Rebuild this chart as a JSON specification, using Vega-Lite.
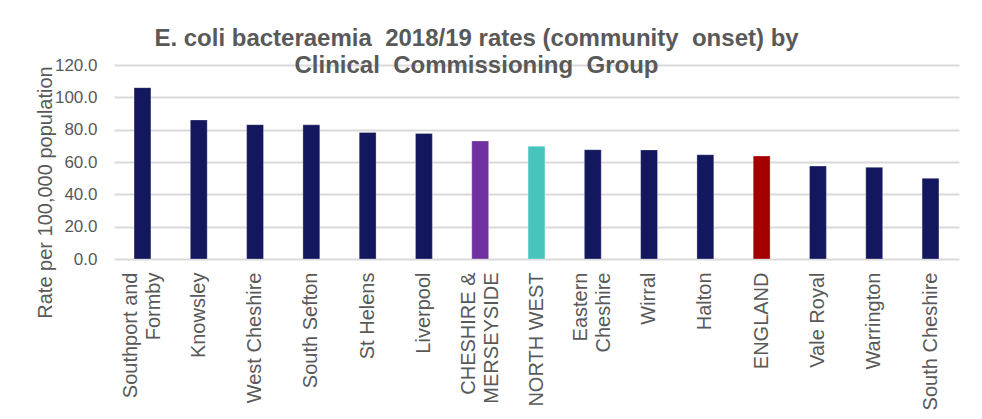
{
  "$schema": "https://vega.github.io/schema/vega-lite/v6.json",
  "autosize": "none",
  "width": 845,
  "height": 194,
  "padding": {"left": 114, "top": 65, "right": 23, "bottom": 160},
  "background": "white",
  "config": {
    "view": {"stroke": null},
    "font": "Liberation Sans"
  },
  "title": {
    "text": ["E. coli bacteraemia \u00a02018/19 rates (community \u00a0onset) by", "Clinical \u00a0Commissioning \u00a0Group"],
    "font": "Liberation Sans",
    "fontSize": 24,
    "fontWeight": "bold",
    "color": "#595959",
    "anchor": "middle",
    "frame": "group",
    "dx": -60,
    "dy": 41,
    "lineHeight": 27,
    "baseline": "alphabetic",
    "offset": 0
  },
  "data": {
    "values": [
      {"area": "Southport and|Formby", "rate": 106.0, "kind": "CCG"},
      {"area": "Knowsley", "rate": 86.0, "kind": "CCG"},
      {"area": "West Cheshire", "rate": 83.1, "kind": "CCG"},
      {"area": "South Sefton", "rate": 83.0, "kind": "CCG"},
      {"area": "St Helens", "rate": 78.3, "kind": "CCG"},
      {"area": "Liverpool", "rate": 77.7, "kind": "CCG"},
      {"area": "CHESHIRE &|MERSEYSIDE", "rate": 73.0, "kind": "Cheshire & Merseyside"},
      {"area": "NORTH WEST", "rate": 69.7, "kind": "North West"},
      {"area": "Eastern|Cheshire", "rate": 67.6, "kind": "CCG"},
      {"area": "Wirral", "rate": 67.5, "kind": "CCG"},
      {"area": "Halton", "rate": 64.5, "kind": "CCG"},
      {"area": "ENGLAND", "rate": 63.7, "kind": "England"},
      {"area": "Vale Royal", "rate": 57.5, "kind": "CCG"},
      {"area": "Warrington", "rate": 56.7, "kind": "CCG"},
      {"area": "South Cheshire", "rate": 49.9, "kind": "CCG"}
    ]
  },
  "mark": {"type": "bar", "stroke": "#ffffff", "strokeWidth": 0.5, "strokeOpacity": 0.6},
  "encoding": {
    "x": {
      "field": "area",
      "type": "nominal",
      "sort": null,
      "scale": {"paddingInner": 0.7, "paddingOuter": 0.356},
      "axis": {
        "title": null,
        "domain": false,
        "ticks": false,
        "labelAngle": -90,
        "labelAlign": "right",
        "labelBaseline": "middle",
        "labelPadding": 13,
        "labelFont": "Liberation Sans",
        "labelFontSize": 20,
        "labelColor": "#595959",
        "labelLineHeight": 23,
        "labelOffset": {"condition": {"test": "indexof(datum.label, '|') >= 0", "value": -11.5}, "value": 0},
        "labelExpr": "split(datum.label, '|')",
        "labelLimit": 300
      }
    },
    "y": {
      "field": "rate",
      "type": "quantitative",
      "scale": {"domain": [0, 120], "nice": false},
      "axis": {
        "values": [0, 20, 40, 60, 80, 100, 120],
        "format": ".1f",
        "domain": false,
        "ticks": false,
        "labelPadding": 17,
        "labelFont": "Liberation Sans",
        "labelFontSize": 17,
        "labelColor": "#595959",
        "gridColor": "#d9d9d9",
        "gridWidth": 2,
        "title": "Rate per 100,000 population",
        "titleFont": "Liberation Sans",
        "titleFontSize": 20,
        "titleFontWeight": "normal",
        "titleColor": "#595959",
        "titleAngle": -90,
        "titleAlign": "center",
        "titleBaseline": "middle",
        "titleX": -69,
        "titleY": 127
      }
    },
    "color": {
      "field": "kind",
      "type": "nominal",
      "scale": {
        "domain": ["CCG", "Cheshire & Merseyside", "North West", "England"],
        "range": ["#13175e", "#7030a0", "#47c5bd", "#a50000"]
      },
      "legend": null
    }
  }
}
